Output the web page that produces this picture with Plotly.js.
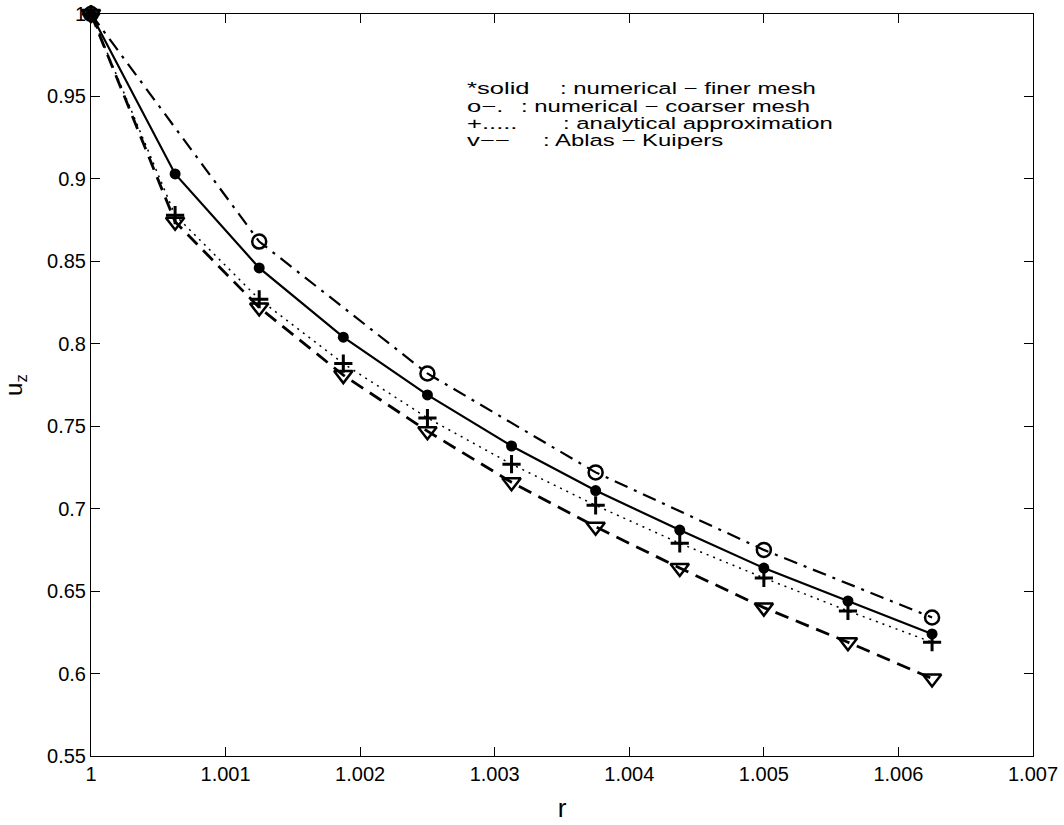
<!DOCTYPE html>
<html>
<head>
<meta charset="utf-8">
<script src="https://cdn.plot.ly/plotly-3.0.1.min.js"></script>
<style>html,body{margin:0;padding:0;background:#fff;}#chart{width:1064px;height:825px;}</style>
</head>
<body>
<div id="chart"></div>
<script>
// r positions
const rFine = [1, 1.000625, 1.00125, 1.001875, 1.0025, 1.003125, 1.00375, 1.004375, 1.005, 1.005625, 1.00625];
const rCoarse = [1, 1.00125, 1.0025, 1.00375, 1.005, 1.00625];
// series values (u_z)
const uFine = [1.0, 0.903, 0.846, 0.804, 0.769, 0.738, 0.711, 0.687, 0.664, 0.644, 0.624];
const uCoarse = [1.0, 0.862, 0.782, 0.722, 0.675, 0.634];
const uAnalytic = [1.0, 0.878, 0.827, 0.788, 0.755, 0.727, 0.702, 0.679, 0.658, 0.638, 0.619];
const uAblas = [1.0, 0.874, 0.822, 0.781, 0.747, 0.716, 0.689, 0.664, 0.640, 0.619, 0.597];
// ticks
const xTicks = [1, 1.001, 1.002, 1.003, 1.004, 1.005, 1.006, 1.007];
const xTickText = ["1", "1.001", "1.002", "1.003", "1.004", "1.005", "1.006", "1.007"];
const yTicks = [0.55, 0.6, 0.65, 0.7, 0.75, 0.8, 0.85, 0.9, 0.95, 1];
const yTickText = ["0.55", "0.6", "0.65", "0.7", "0.75", "0.8", "0.85", "0.9", "0.95", "1"];
// legend text (key / description)
const legendKeys = ["*solid", "o\u2212.", "+.....", "v\u2212\u2212"];
const legendDescs = [": numerical \u2212 finer mesh", ": numerical \u2212 coarser mesh", ": analytical approximation", ": Ablas \u2212 Kuipers"];

const FONT = 'Liberation Sans, Arial, Helvetica, sans-serif';

const traces = [
  {x: rCoarse, y: uCoarse, mode: 'lines+markers', cliponaxis: false,
   line: {color: '#000', width: 2.2, dash: '14px,7px,3px,7px'},
   marker: {symbol: 'circle-open', size: 14, color: '#000', line: {width: 2.5, color: '#000'}}},
  {x: rFine, y: uAblas, mode: 'lines+markers', cliponaxis: false,
   line: {color: '#000', width: 2.8, dash: '14px,8px'},
   marker: {symbol: 'triangle-down-open', size: 16, color: '#000', line: {width: 2.5, color: '#000'}}},
  {x: rFine, y: uAnalytic, mode: 'lines+markers', cliponaxis: false,
   line: {color: '#000', width: 1.5, dash: '2px,5px'},
   marker: {symbol: 'cross-thin-open', size: 13, color: '#000', line: {width: 3, color: '#000'}}},
  {x: rFine, y: uFine, mode: 'lines+markers', cliponaxis: false,
   line: {color: '#000', width: 2.2},
   marker: {symbol: 'circle', size: 11, color: '#000'}}
];

const lineY = [0.900, 0.876, 0.853, 0.830];
const descX = [0.4964, 0.4550, 0.4996, 0.4783];
const annotations = [];
legendKeys.forEach((k, i) => {
  annotations.push({xref: 'paper', yref: 'paper', x: 0.3985, y: lineY[i],
    xanchor: 'left', yanchor: 'middle', showarrow: false, align: 'left', borderpad: 0,
    text: k, font: {family: FONT, size: 16.5, color: '#000'}});
  annotations.push({xref: 'paper', yref: 'paper', x: descX[i], y: lineY[i],
    xanchor: 'left', yanchor: 'middle', showarrow: false, align: 'left', borderpad: 0,
    text: legendDescs[i], font: {family: FONT, size: 16.5, color: '#000'}});
});

const layout = {
  width: 1064, height: 825,
  margin: {l: 91, r: 31, t: 14, b: 69},
  paper_bgcolor: '#fff', plot_bgcolor: '#fff',
  showlegend: false,
  font: {family: FONT, color: '#000', size: 20},
  xaxis: {
    range: [1, 1.007], tickvals: xTicks, ticktext: xTickText,
    ticks: 'inside', ticklen: 9, tickwidth: 1, tickcolor: '#000',
    showline: true, linecolor: '#000', linewidth: 1, mirror: 'ticks',
    showgrid: false, zeroline: false,
    tickfont: {size: 20},
    title: {text: 'r', font: {size: 26}, standoff: 14}
  },
  yaxis: {
    range: [0.55, 1], tickvals: yTicks, ticktext: yTickText,
    ticks: 'inside', ticklen: 9, tickwidth: 1, tickcolor: '#000',
    showline: true, linecolor: '#000', linewidth: 1, mirror: 'ticks',
    showgrid: false, zeroline: false,
    tickfont: {size: 20},
    title: {text: 'u<sub>z</sub>', font: {size: 24}, standoff: 22}
  },
  annotations: annotations
};

function stretchEl(t, s) {
  const bb = t.getBBox();
  const anchor = t.getAttribute('text-anchor') || 'start';
  const ax = anchor === 'middle' ? bb.x + bb.width / 2 : (anchor === 'end' ? bb.x + bb.width : bb.x);
  const ex = t.getAttribute('transform') || '';
  t.setAttribute('transform', ex + ' translate(' + ax + ',0) scale(' + s + ',1) translate(' + (-ax) + ',0)');
}

Plotly.newPlot('chart', traces, layout, {displayModeBar: false, staticPlot: true}).then(() => {
  document.querySelectorAll('#chart text.annotation-text').forEach((t, i) => {
    stretchEl(t, i % 2 === 0 ? 1.55 : 1.45);
  });
});
</script>
</body>
</html>
